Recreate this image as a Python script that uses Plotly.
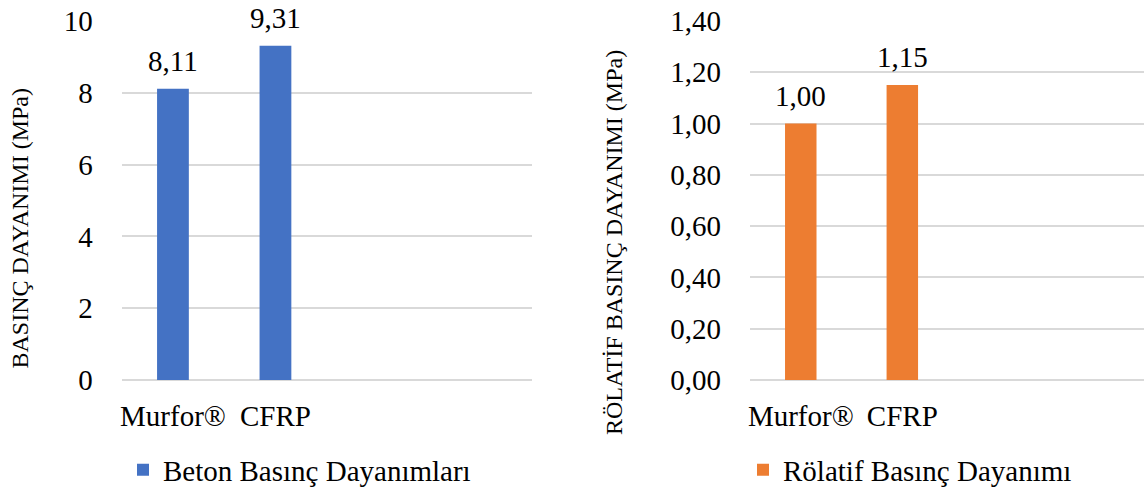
import plotly.graph_objects as go

# Test groups (only the first two categories carry data)
categories = ["Murfor®", "CFRP"]
slot_count = 4

# Concrete compressive strength, MPa
strength_values = [8.11, 9.31]
# Relative compressive strength
relative_values = [1.00, 1.15]

strength_name = "Beton Basınç Dayanımları"
relative_name = "Rölatif Basınç Dayanımı"
strength_title = "BASINÇ DAYANIMI (MPa)"
relative_title = "RÖLATİF BASINÇ DAYANIMI (MPa)"

BLUE = "#4472C4"
ORANGE = "#ED7D31"
GRID = "#D9D9D9"
FONT = "Liberation Serif"
BIG = 29
TITLE = 24

positions = list(range(len(categories)))

fig = go.Figure()
fig.add_trace(go.Bar(
    x=positions, y=strength_values, name=strength_name,
    marker=dict(color=BLUE, line=dict(width=0)), width=0.31,
    xaxis="x", yaxis="y", legend="legend", showlegend=True, hoverinfo="skip",
))
fig.add_trace(go.Bar(
    x=positions, y=relative_values, name=relative_name,
    marker=dict(color=ORANGE, line=dict(width=0)), width=0.31,
    xaxis="x2", yaxis="y2", legend="legend2", showlegend=True, hoverinfo="skip",
))


def fmt(v, decimals):
    return f"{v:.{decimals}f}".replace(".", ",")


annotations = []
for xi, v in zip(positions, strength_values):
    annotations.append(dict(x=xi, y=v, xref="x", yref="y", text=fmt(v, 2),
                            showarrow=False, yanchor="bottom", yshift=10,
                            font=dict(family=FONT, size=BIG, color="#000")))
for xi, v in zip(positions, relative_values):
    annotations.append(dict(x=xi, y=v, xref="x2", yref="y2", text=fmt(v, 2),
                            showarrow=False, yanchor="bottom", yshift=10,
                            font=dict(family=FONT, size=BIG, color="#000")))

# Rotated axis titles
annotations.append(dict(x=19 / 1144, y=(491 - 228.5) / 491, xref="paper", yref="paper",
                        text=strength_title, textangle=-90, showarrow=False,
                        xanchor="center", yanchor="middle",
                        font=dict(family=FONT, size=TITLE, color="#000")))
annotations.append(dict(x=614 / 1144, y=(491 - 243) / 491, xref="paper", yref="paper",
                        text=relative_title, textangle=-90, showarrow=False,
                        xanchor="center", yanchor="middle",
                        font=dict(family=FONT, size=TITLE, color="#000")))

ydom = [(491 - 380) / 491, (491 - 21) / 491]
xaxis_common = dict(
    tickvals=positions, ticktext=categories, showgrid=False, zeroline=False,
    showline=False, ticks="", ticklabelstandoff=16, automargin=False,
    tickfont=dict(family=FONT, size=BIG, color="#000"), fixedrange=True,
)
yaxis_common = dict(
    showgrid=True, gridcolor=GRID, gridwidth=1.5, zeroline=True,
    zerolinecolor=GRID, zerolinewidth=1.5, showline=False, ticks="",
    ticklabelstandoff=28, automargin=False,
    tickfont=dict(family=FONT, size=BIG, color="#000"),
)

legend_common = dict(
    xref="container", yref="container", xanchor="left", yanchor="middle",
    orientation="h", font=dict(family=FONT, size=BIG, color="#000"),
    bgcolor="rgba(0,0,0,0)", borderwidth=0,
)

fig.update_layout(
    width=1144, height=491,
    margin=dict(l=0, r=0, t=0, b=0, autoexpand=False),
    paper_bgcolor="white", plot_bgcolor="white",
    separators=",.",
    barmode="group",
    showlegend=True,
    xaxis=dict(domain=[121.7 / 1144, 531.7 / 1144], range=[-0.5, slot_count - 0.5],
               anchor="y", **xaxis_common),
    yaxis=dict(domain=ydom, range=[0, 10], dtick=2, anchor="x", **yaxis_common),
    xaxis2=dict(domain=[750 / 1144, 1.0], range=[-0.5, 3.38], anchor="y2", **xaxis_common),
    yaxis2=dict(domain=ydom, range=[0, 1.4], dtick=0.2, tickformat=".2f",
                anchor="x2", **yaxis_common),
    legend=dict(x=123 / 1144, y=(491 - 470) / 491, **legend_common),
    legend2=dict(x=743 / 1144, y=(491 - 470) / 491, **legend_common),
    annotations=annotations,
    font=dict(family=FONT, color="#000"),
)

fig.write_html("out.html", config={"displayModeBar": False})
